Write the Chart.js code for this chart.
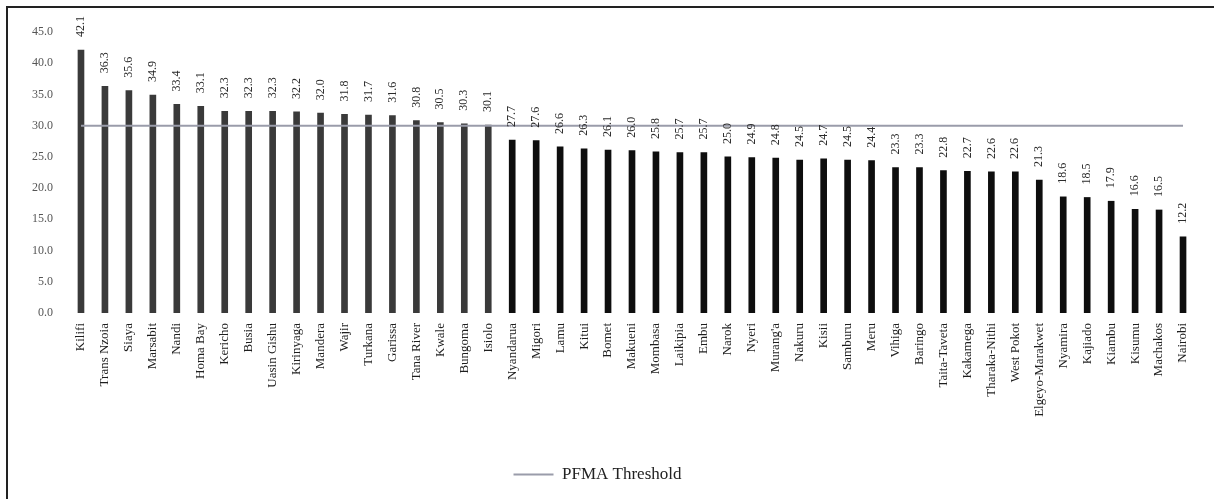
<!DOCTYPE html>
<html>
<head>
<meta charset="utf-8">
<script src="https://cdn.jsdelivr.net/npm/chart.js@4.4.1/dist/chart.umd.min.js"></script>
<style>
  html, body { margin: 0; padding: 0; background: #ffffff; }
  #wrap { position: relative; width: 1214px; height: 499px; }
  #frame { position: absolute; left: 6px; top: 6px; right: 0; bottom: 0;
           border-top: 2px solid #222; border-left: 2px solid #222; pointer-events: none; }
  canvas { display: block; }
</style>
</head>
<body>
<div id="wrap">
  <canvas id="c" width="1214" height="499"></canvas>
  <div id="frame"></div>
</div>
<script>
const categories = ["Kilifi","Trans Nzoia","Siaya","Marsabit","Nandi","Homa Bay","Kericho","Busia","Uasin Gishu","Kirinyaga","Mandera","Wajir","Turkana","Garissa","Tana River","Kwale","Bungoma","Isiolo","Nyandarua","Migori","Lamu","Kitui","Bomet","Makueni","Mombasa","Laikipia","Embu","Narok","Nyeri","Murang'a","Nakuru","Kisii","Samburu","Meru","Vihiga","Baringo","Taita-Taveta","Kakamega","Tharaka-Nithi","West Pokot","Elgeyo-Marakwet","Nyamira","Kajiado","Kiambu","Kisumu","Machakos","Nairobi"];
const values = [42.1,36.3,35.6,34.9,33.4,33.1,32.3,32.3,32.3,32.2,32.0,31.8,31.7,31.6,30.8,30.5,30.3,30.1,27.7,27.6,26.6,26.3,26.1,26.0,25.8,25.7,25.7,25.0,24.9,24.8,24.5,24.7,24.5,24.4,23.3,23.3,22.8,22.7,22.6,22.6,21.3,18.6,18.5,17.9,16.6,16.5,12.2];
const thresholdValue = 30;
const thresholdLabel = "PFMA Threshold";
const yTicks = [0,5,10,15,20,25,30,35,40,45];

const valueLabelPlugin = {
  id: 'valueLabels',
  afterDatasetsDraw(chart) {
    const meta = chart.getDatasetMeta(0);
    const ctx = chart.ctx;
    ctx.save();
    ctx.font = '12px "Liberation Serif", serif';
    ctx.fillStyle = '#2a2a2a';
    ctx.textAlign = 'left';
    ctx.textBaseline = 'middle';
    meta.data.forEach((bar, i) => {
      ctx.save();
      ctx.translate(bar.x, bar.y - 13);
      ctx.rotate(-Math.PI / 2);
      ctx.fillText(values[i].toFixed(1), 0, 0);
      ctx.restore();
    });
    ctx.restore();
  }
};

new Chart(document.getElementById('c'), {
  data: {
    labels: categories,
    datasets: [
      {
        type: 'bar',
        label: 'Value',
        data: values,
        order: 1,
        backgroundColor: (c) => (values[c.dataIndex] > thresholdValue ? '#3a3a3a' : '#0e0e0e'),
        barThickness: 6
      },
      {
        type: 'line',
        label: thresholdLabel,
        data: categories.map(() => thresholdValue),
        order: 0,
        borderColor: '#9a9caa',
        backgroundColor: '#9a9caa',
        borderWidth: 2,
        pointRadius: 0,
        fill: false
      }
    ]
  },
  options: {
    responsive: false,
    animation: false,
    devicePixelRatio: 1,
    layout: { padding: { left: 0, right: 19, top: 32, bottom: 6 } },
    plugins: {
      tooltip: { enabled: false },
      legend: {
        position: 'bottom',
        labels: {
          filter: (item) => item.datasetIndex === 1,
          usePointStyle: true,
          pointStyle: 'line',
          pointStyleWidth: 40,
          padding: 10,
          color: '#222',
          font: { family: '"Liberation Serif", serif', size: 17 }
        }
      }
    },
    scales: {
      x: {
        offset: true,
        grid: { display: false, drawTicks: false },
        border: { display: false },
        ticks: {
          autoSkip: false,
          maxRotation: 90,
          minRotation: 90,
          padding: 10,
          color: '#1e1e1e',
          font: { family: '"Liberation Serif", serif', size: 13 }
        },
        afterFit: (s) => { s.height = 143; }
      },
      y: {
        min: 0,
        max: 45,
        grid: { display: false, drawTicks: false },
        border: { display: false },
        afterBuildTicks: (s) => { s.ticks = yTicks.map(v => ({ value: v })); },
        ticks: {
          padding: 16,
          color: '#555',
          font: { family: '"Liberation Serif", serif', size: 12 },
          callback: (v) => Number(v).toFixed(1)
        },
        afterFit: (s) => { s.width = 69; }
      }
    }
  },
  plugins: [valueLabelPlugin]
});
</script>
</body>
</html>
